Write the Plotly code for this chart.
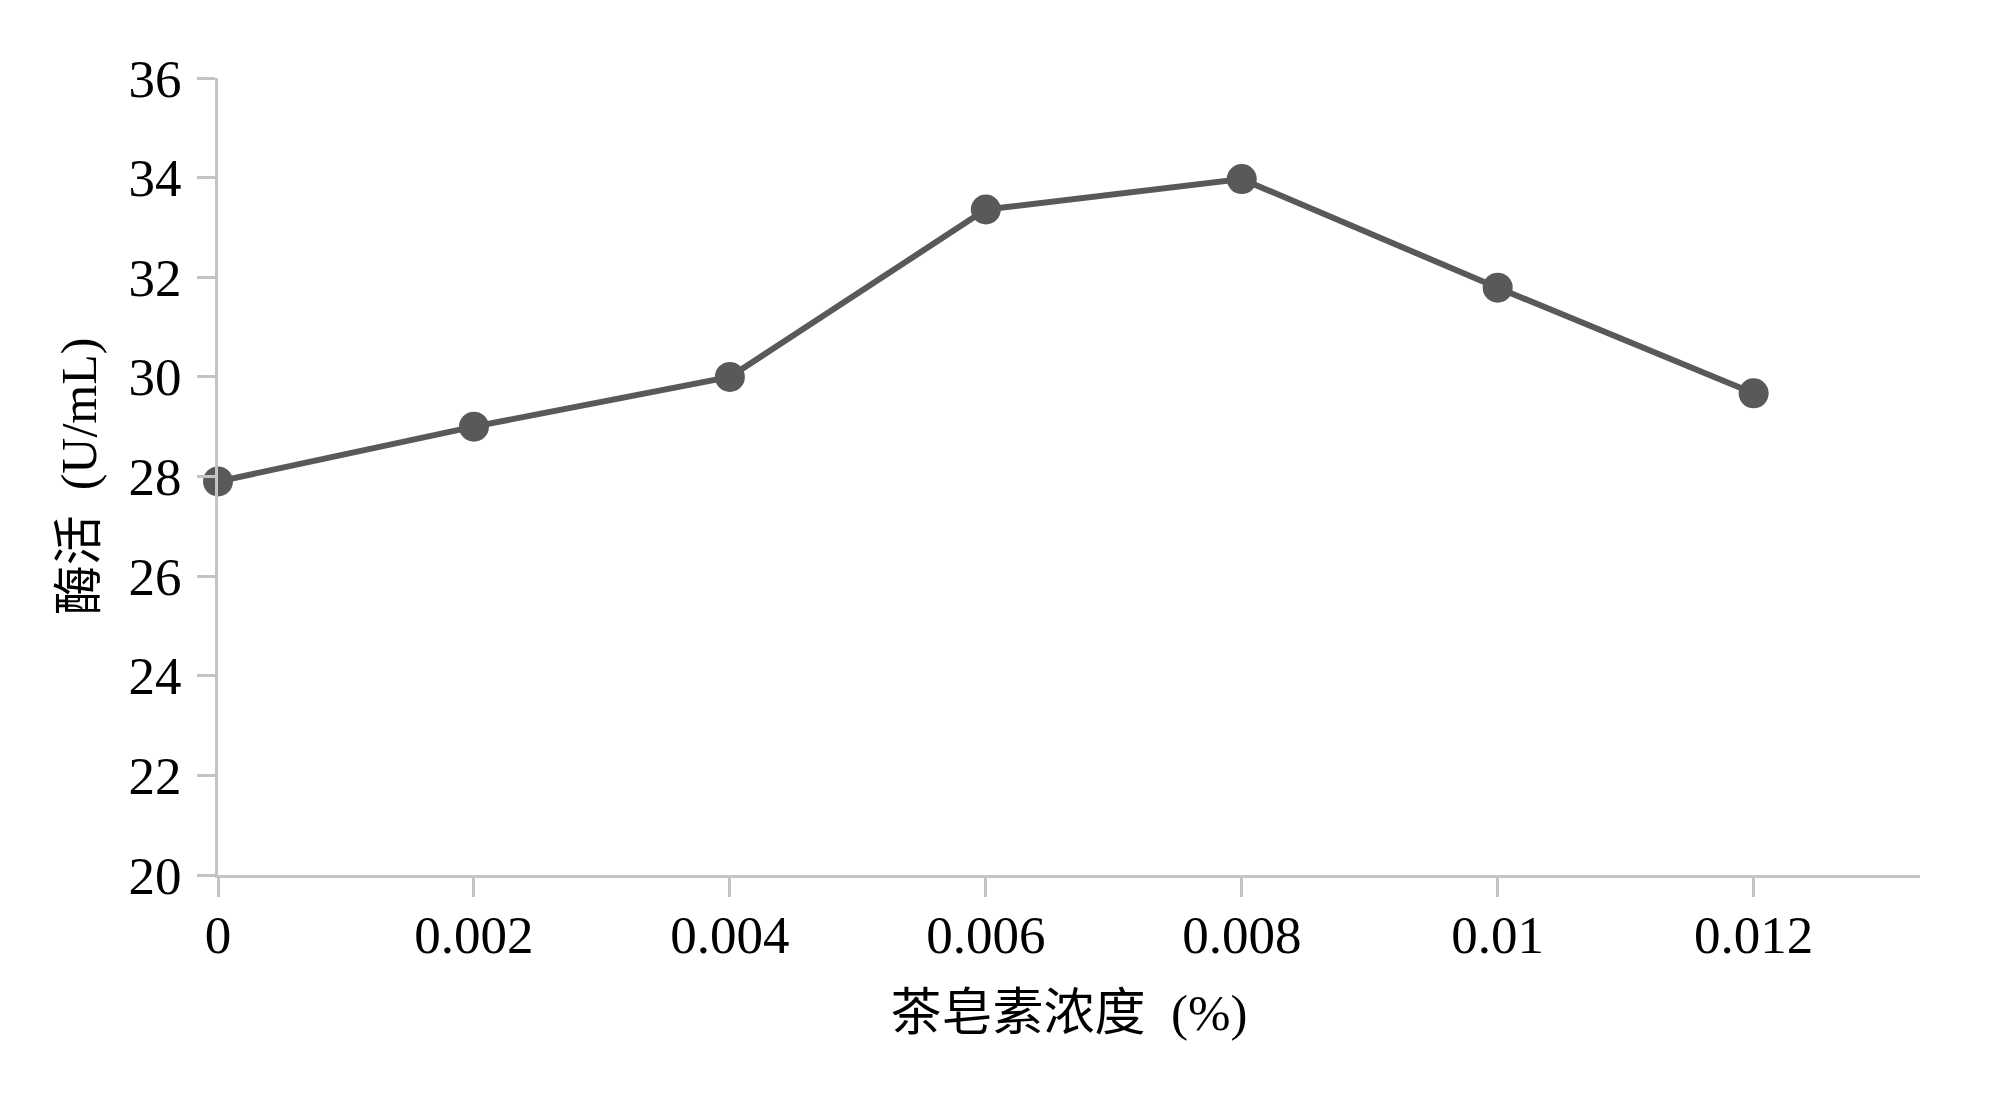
#!/usr/bin/env python3

# import modules
import plotly.graph_objs as go

# data
concentration = [0, 0.002, 0.004, 0.006, 0.008, 0.01, 0.012]
enzyme_activity = [27.9, 29.0, 30.0, 33.36, 33.97, 31.79, 29.67]

x_tick_vals = [0, 0.002, 0.004, 0.006, 0.008, 0.01, 0.012]
x_tick_text = ['0', '0.002', '0.004', '0.006', '0.008', '0.01', '0.012']
y_tick_vals = [20, 22, 24, 26, 28, 30, 32, 34, 36]

font_family = 'Liberation Serif, Times New Roman, Noto Sans CJK SC, serif'
axis_grey = '#c4c4c4'
series_grey = '#595959'

trace = go.Scatter(x=concentration, y=enzyme_activity,
                   mode='lines+markers',
                   line=dict(color=series_grey, width=6),
                   marker=dict(color=series_grey, size=30),
                   cliponaxis=False, showlegend=False)

# page body has an 8px margin, so plot area offsets are reduced by 8
layout = go.Layout(
    width=2000, height=1093,
    margin=dict(l=210, r=88, t=70, b=226),
    plot_bgcolor='white', paper_bgcolor='white',
    font=dict(family=font_family, size=52, color='black'),
    xaxis=dict(range=[0, 0.0133], tickvals=x_tick_vals, ticktext=x_tick_text,
               showgrid=False, zeroline=False, showline=True,
               linecolor=axis_grey, linewidth=3,
               ticks='outside', ticklen=19, tickwidth=3, tickcolor=axis_grey,
               tickfont=dict(size=53), ticklabelstandoff=-8,
               title=dict(text='茶皂素浓度\u00a0\u00a0(%)', standoff=32,
                          font=dict(size=51))),
    yaxis=dict(range=[20, 36], tickvals=y_tick_vals,
               showgrid=False, zeroline=False, showline=True,
               linecolor=axis_grey, linewidth=3,
               ticks='outside', ticklen=18, tickwidth=3, tickcolor=axis_grey,
               tickfont=dict(size=53), ticklabelstandoff=5,
               title=dict(text='酶活\u00a0\u00a0(U/mL)', standoff=16,
                          font=dict(size=50))),
)

fig = go.Figure(data=[trace], layout=layout)
fig.write_html('out.html')
